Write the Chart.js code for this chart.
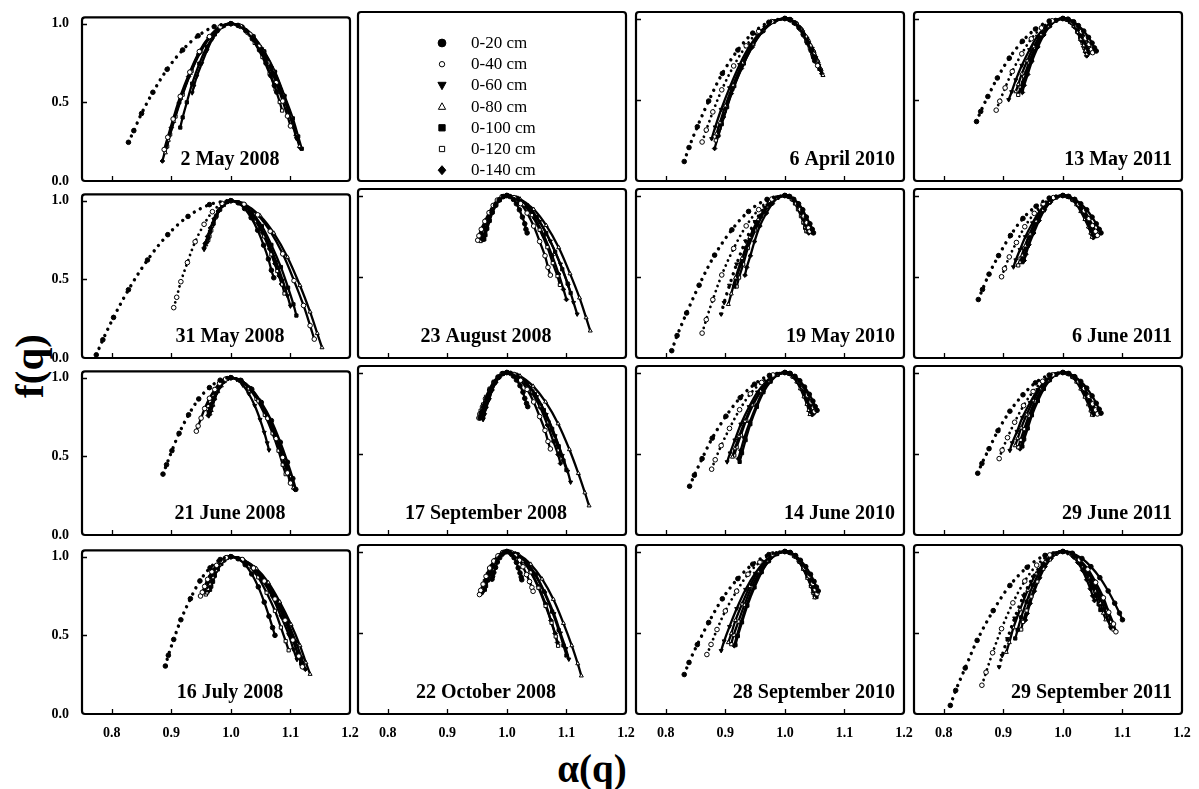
<!DOCTYPE html>
<html lang="en">
<head>
<meta charset="utf-8">
<title>Multifractal spectra f(q) vs α(q)</title>
<script src="https://cdn.jsdelivr.net/npm/chart.js@4.4.1/dist/chart.umd.min.js"></script>
<style>
html,body{margin:0;padding:0;background:#fff;}
#fig{position:relative;width:1199px;height:789px;overflow:hidden;background:#fff;}
#fig canvas{position:absolute;}
.axt{position:absolute;font-family:"Liberation Serif","Times New Roman",serif;font-weight:bold;color:#000;white-space:nowrap;line-height:1;}
</style>
</head>
<body>
<div id="fig">
<div class="axt" style="left:29px;top:366px;font-size:41px;transform:translate(-50%,-50%) rotate(-90deg);">f(q)</div>
<div class="axt" style="left:592px;top:768px;font-size:39px;transform:translate(-50%,-50%);">α(q)</div>
</div>
<script>
// ---------------- data ----------------
const depthLabels = ['0-20 cm','0-40 cm','0-60 cm','0-80 cm','0-100 cm','0-120 cm','0-140 cm'];
const panelDates = ['2 May 2008','','6 April 2010','13 May 2011','31 May 2008','23 August 2008','19 May 2010','6 June 2011','21 June 2008','17 September 2008','14 June 2010','29 June 2011','16 July 2008','22 October 2008','28 September 2010','29 September 2011'];
const xTickValues = [0.8, 0.9, 1.0, 1.1, 1.2];
const yTickValues = [0.0, 0.5, 1.0];

// each series: [alpha, f] points
const d_2May2008 = [
 [[.828,.246],[.837,.32],[.85,.429],[.869,.564],[.893,.71],[.919,.833],[.945,.923],[.972,.981],[1,1],[1.012,.989],[1.025,.955],[1.036,.904],[1.048,.833],[1.059,.749],[1.067,.671],[1.073,.607],[1.077,.565]],
 [[.888,.2],[.894,.278],[.903,.394],[.915,.538],[.931,.692],[.947,.823],[.964,.918],[.982,.98],[1,1],[1.016,.983],[1.032,.933],[1.047,.856],[1.062,.75],[1.076,.625],[1.087,.508],[1.095,.413],[1.1,.35]],
 [[.935,.56],[.938,.603],[.943,.667],[.951,.746],[.96,.831],[.969,.903],[.979,.955],[.99,.989],[1,1],[1.018,.981],[1.035,.925],[1.052,.839],[1.068,.719],[1.084,.578],[1.096,.447],[1.105,.341],[1.11,.27]],
 [[.89,.18],[.895,.26],[.904,.379],[.916,.526],[.932,.685],[.948,.819],[.965,.916],[.982,.979],[1,1],[1.018,.98],[1.037,.92],[1.054,.828],[1.071,.7],[1.087,.549],[1.1,.41],[1.109,.296],[1.115,.22]],
 [[.915,.34],[.919,.404],[.926,.5],[.935,.619],[.947,.746],[.96,.854],[.973,.932],[.986,.983],[1,1],[1.019,.98],[1.038,.919],[1.056,.824],[1.074,.694],[1.09,.541],[1.104,.398],[1.113,.283],[1.119,.205]],
 [[.893,.22],[.898,.296],[.907,.41],[.919,.549],[.934,.7],[.95,.828],[.966,.92],[.983,.98],[1,1],[1.014,.986],[1.028,.943],[1.04,.878],[1.053,.788],[1.065,.681],[1.075,.582],[1.082,.502],[1.086,.448]],
 [[.885,.127],[.891,.212],[.9,.339],[.913,.496],[.929,.664],[.946,.807],[.963,.911],[.982,.978],[1,1],[1.019,.98],[1.037,.919],[1.055,.825],[1.073,.696],[1.089,.544],[1.102,.402],[1.111,.287],[1.117,.21]]
];
const d_6Apr2010 = [
 [[.831,.12],[.839,.206],[.853,.334],[.872,.492],[.895,.662],[.921,.806],[.946,.91],[.973,.977],[1,1],[1.008,.993],[1.016,.973],[1.024,.943],[1.031,.9],[1.038,.85],[1.044,.803],[1.048,.765],[1.05,.74]],
 [[.861,.24],[.868,.314],[.879,.425],[.894,.561],[.914,.708],[.935,.832],[.956,.922],[.978,.981],[1,1],[1.009,.993],[1.018,.97],[1.026,.936],[1.034,.889],[1.042,.832],[1.048,.78],[1.052,.738],[1.055,.71]],
 [[.877,.26],[.883,.332],[.893,.44],[.907,.573],[.924,.716],[.942,.837],[.961,.924],[.98,.981],[1,1],[1.01,.992],[1.019,.967],[1.028,.929],[1.037,.877],[1.046,.815],[1.052,.758],[1.057,.711],[1.06,.68]],
 [[.885,.29],[.891,.359],[.9,.463],[.913,.59],[.929,.727],[.946,.843],[.963,.927],[.982,.982],[1,1],[1.01,.991],[1.02,.964],[1.03,.923],[1.04,.865],[1.049,.798],[1.056,.735],[1.061,.684],[1.064,.65]],
 [[.888,.28],[.894,.35],[.903,.455],[.915,.584],[.931,.723],[.947,.841],[.964,.926],[.982,.982],[1,1],[1.009,.992],[1.019,.968],[1.027,.932],[1.036,.881],[1.044,.821],[1.05,.765],[1.055,.72],[1.058,.69]],
 [[.884,.25],[.89,.323],[.899,.432],[.912,.567],[.928,.712],[.945,.834],[.963,.923],[.981,.981],[1,1],[1.008,.994],[1.015,.975],[1.023,.947],[1.03,.908],[1.036,.861],[1.042,.818],[1.046,.783],[1.048,.76]],
 [[.882,.2],[.888,.278],[.897,.394],[.91,.538],[.927,.692],[.945,.823],[.962,.918],[.981,.98],[1,1],[1.01,.991],[1.02,.965],[1.029,.925],[1.038,.869],[1.047,.804],[1.054,.743],[1.059,.693],[1.062,.66]]
];
const d_13May2011 = [
 [[.855,.366],[.862,.428],[.874,.52],[.89,.634],[.91,.756],[.932,.86],[.954,.935],[.977,.984],[1,1],[1.009,.995],[1.018,.98],[1.026,.956],[1.035,.923],[1.043,.884],[1.049,.849],[1.053,.819],[1.056,.8]],
 [[.888,.436],[.894,.491],[.903,.573],[.915,.674],[.931,.783],[.947,.875],[.964,.942],[.982,.986],[1,1],[1.008,.995],[1.016,.978],[1.024,.954],[1.031,.919],[1.038,.879],[1.044,.841],[1.048,.81],[1.05,.79]],
 [[.909,.5],[.914,.549],[.921,.622],[.931,.711],[.944,.808],[.957,.89],[.971,.949],[.985,.987],[1,1],[1.007,.995],[1.014,.978],[1.021,.954],[1.028,.919],[1.034,.879],[1.039,.841],[1.043,.81],[1.045,.79]],
 [[.921,.55],[.925,.594],[.931,.659],[.94,.74],[.951,.827],[.963,.901],[.975,.954],[.987,.988],[1,1],[1.006,.994],[1.013,.977],[1.019,.951],[1.025,.915],[1.03,.873],[1.035,.833],[1.038,.801],[1.04,.78]],
 [[.93,.56],[.933,.603],[.939,.667],[.947,.746],[.957,.831],[.967,.903],[.978,.955],[.989,.989],[1,1],[1.007,.994],[1.013,.978],[1.02,.953],[1.026,.917],[1.032,.876],[1.037,.837],[1.04,.806],[1.042,.785]],
 [[.925,.53],[.929,.576],[.935,.644],[.943,.729],[.953,.819],[.965,.896],[.976,.952],[.988,.988],[1,1],[1.006,.995],[1.012,.98],[1.018,.956],[1.024,.923],[1.029,.884],[1.033,.849],[1.036,.819],[1.038,.8]],
 [[.932,.545],[.935,.589],[.941,.656],[.948,.737],[.958,.825],[.968,.899],[.978,.953],[.989,.988],[1,1],[1.006,.994],[1.013,.976],[1.019,.949],[1.025,.912],[1.03,.867],[1.035,.826],[1.038,.792],[1.04,.77]]
];
const d_31May2008 = [
 [[.774,.02],[.785,.116],[.803,.258],[.828,.434],[.86,.623],[.894,.784],[.928,.9],[.964,.975],[1,1],[1.012,.987],[1.023,.95],[1.034,.892],[1.045,.812],[1.055,.717],[1.063,.629],[1.068,.558],[1.072,.51]],
 [[.904,.32],[.909,.386],[.916,.485],[.927,.607],[.94,.739],[.955,.85],[.969,.93],[.985,.983],[1,1],[1.022,.977],[1.045,.91],[1.066,.806],[1.087,.662],[1.106,.492],[1.122,.334],[1.133,.206],[1.14,.12]],
 [[.955,.69],[.957,.72],[.961,.765],[.966,.821],[.972,.881],[.979,.932],[.986,.968],[.993,.992],[1,1],[1.016,.983],[1.032,.931],[1.047,.852],[1.062,.742],[1.076,.613],[1.087,.493],[1.095,.395],[1.1,.33]],
 [[.958,.72],[.96,.747],[.963,.788],[.968,.838],[.974,.892],[.98,.938],[.987,.971],[.993,.993],[1,1],[1.024,.976],[1.049,.904],[1.072,.794],[1.095,.641],[1.116,.461],[1.133,.293],[1.145,.157],[1.153,.066]],
 [[.96,.74],[.962,.765],[.965,.803],[.97,.85],[.975,.9],[.981,.943],[.987,.973],[.994,.993],[1,1],[1.018,.981],[1.035,.925],[1.052,.839],[1.068,.719],[1.084,.578],[1.096,.447],[1.105,.341],[1.11,.27]],
 [[.962,.75],[.964,.774],[.967,.811],[.971,.856],[.976,.904],[.982,.945],[.988,.974],[.994,.994],[1,1],[1.014,.985],[1.029,.94],[1.042,.87],[1.056,.773],[1.068,.659],[1.078,.553],[1.086,.468],[1.09,.41]],
 [[.955,.7],[.957,.729],[.961,.773],[.966,.827],[.972,.885],[.979,.934],[.986,.969],[.993,.992],[1,1],[1.014,.986],[1.027,.946],[1.04,.883],[1.053,.796],[1.065,.694],[1.074,.599],[1.081,.522],[1.085,.47]]
];
const d_23Aug2008 = [
 [[.96,.73],[.962,.756],[.965,.796],[.97,.844],[.975,.896],[.981,.94],[.987,.972],[.994,.993],[1,1],[1.005,.994],[1.011,.976],[1.016,.949],[1.021,.912],[1.026,.867],[1.03,.826],[1.032,.792],[1.034,.77]],
 [[.951,.725],[.953,.752],[.957,.792],[.963,.841],[.97,.894],[.977,.939],[.984,.972],[.992,.993],[1,1],[1.012,.987],[1.023,.95],[1.034,.892],[1.045,.812],[1.055,.717],[1.064,.629],[1.069,.558],[1.073,.51]],
 [[.955,.74],[.957,.765],[.961,.803],[.966,.85],[.972,.9],[.979,.943],[.986,.973],[.993,.993],[1,1],[1.019,.981],[1.038,.925],[1.055,.839],[1.073,.719],[1.09,.578],[1.103,.447],[1.112,.341],[1.118,.27]],
 [[.958,.75],[.96,.774],[.963,.811],[.968,.856],[.974,.904],[.98,.945],[.987,.974],[.993,.994],[1,1],[1.022,.979],[1.045,.915],[1.066,.816],[1.087,.68],[1.106,.519],[1.122,.37],[1.133,.248],[1.14,.167]],
 [[.962,.73],[.964,.756],[.967,.796],[.971,.844],[.976,.896],[.982,.94],[.988,.972],[.994,.993],[1,1],[1.017,.985],[1.034,.939],[1.05,.867],[1.066,.769],[1.081,.653],[1.093,.546],[1.102,.458],[1.107,.4]],
 [[.956,.72],[.958,.747],[.962,.788],[.967,.838],[.973,.892],[.979,.938],[.986,.971],[.993,.993],[1,1],[1.014,.986],[1.028,.944],[1.042,.879],[1.055,.789],[1.068,.682],[1.077,.584],[1.085,.504],[1.089,.45]],
 [[.96,.74],[.962,.765],[.965,.803],[.97,.85],[.975,.9],[.981,.943],[.987,.973],[.994,.993],[1,1],[1.016,.984],[1.032,.934],[1.047,.859],[1.062,.754],[1.076,.63],[1.087,.516],[1.095,.422],[1.1,.36]]
];
const d_19May2010 = [
 [[.81,.045],[.819,.138],[.835,.277],[.856,.448],[.882,.633],[.911,.789],[.939,.902],[.97,.976],[1,1],[1.008,.994],[1.015,.976],[1.023,.949],[1.03,.912],[1.036,.867],[1.042,.826],[1.046,.792],[1.048,.77]],
 [[.861,.153],[.868,.236],[.879,.359],[.894,.511],[.914,.674],[.935,.813],[.956,.913],[.978,.978],[1,1],[1.007,.994],[1.013,.977],[1.02,.951],[1.026,.915],[1.032,.873],[1.037,.833],[1.04,.801],[1.042,.78]],
 [[.893,.27],[.898,.341],[.907,.447],[.919,.578],[.934,.719],[.95,.839],[.966,.925],[.983,.981],[1,1],[1.006,.994],[1.013,.976],[1.019,.949],[1.025,.912],[1.03,.867],[1.035,.826],[1.038,.792],[1.04,.77]],
 [[.905,.33],[.91,.395],[.917,.493],[.928,.613],[.941,.742],[.955,.852],[.97,.931],[.985,.983],[1,1],[1.006,.994],[1.012,.977],[1.018,.951],[1.024,.915],[1.029,.873],[1.033,.833],[1.036,.801],[1.038,.78]],
 [[.915,.44],[.919,.495],[.926,.576],[.935,.677],[.947,.785],[.96,.876],[.973,.943],[.986,.986],[1,1],[1.007,.994],[1.014,.977],[1.021,.95],[1.028,.914],[1.034,.87],[1.039,.83],[1.043,.797],[1.045,.775]],
 [[.919,.44],[.923,.495],[.93,.576],[.938,.677],[.95,.785],[.962,.876],[.974,.943],[.987,.986],[1,1],[1.006,.994],[1.012,.977],[1.017,.951],[1.022,.915],[1.027,.873],[1.031,.833],[1.034,.801],[1.036,.78]],
 [[.933,.51],[.936,.558],[.942,.629],[.949,.717],[.958,.812],[.969,.892],[.979,.95],[.989,.987],[1,1],[1.006,.994],[1.013,.976],[1.019,.949],[1.025,.912],[1.03,.867],[1.035,.826],[1.038,.792],[1.04,.77]]
];
const d_6Jun2011 = [
 [[.858,.36],[.865,.422],[.876,.516],[.892,.63],[.912,.754],[.933,.859],[.955,.934],[.977,.984],[1,1],[1.01,.994],[1.02,.976],[1.03,.949],[1.04,.912],[1.049,.867],[1.056,.826],[1.061,.792],[1.064,.77]],
 [[.897,.5],[.902,.549],[.91,.622],[.922,.711],[.936,.808],[.952,.89],[.967,.949],[.984,.987],[1,1],[1.009,.994],[1.019,.975],[1.027,.946],[1.036,.906],[1.044,.858],[1.05,.815],[1.055,.779],[1.058,.755]],
 [[.917,.56],[.921,.603],[.928,.667],[.937,.746],[.949,.831],[.961,.903],[.973,.955],[.987,.989],[1,1],[1.008,.993],[1.017,.974],[1.024,.944],[1.032,.902],[1.04,.853],[1.045,.807],[1.049,.77],[1.052,.745]],
 [[.928,.59],[.932,.63],[.937,.69],[.945,.763],[.955,.842],[.966,.909],[.977,.958],[.988,.99],[1,1],[1.008,.993],[1.016,.974],[1.023,.944],[1.03,.902],[1.037,.853],[1.043,.807],[1.047,.769],[1.049,.744]],
 [[.932,.59],[.935,.63],[.941,.69],[.948,.763],[.958,.842],[.968,.909],[.978,.958],[.989,.99],[1,1],[1.009,.994],[1.018,.974],[1.026,.945],[1.034,.904],[1.042,.856],[1.048,.811],[1.052,.774],[1.055,.75]],
 [[.925,.57],[.929,.612],[.935,.675],[.943,.752],[.953,.835],[.965,.905],[.976,.956],[.988,.989],[1,1],[1.008,.994],[1.016,.975],[1.024,.947],[1.031,.908],[1.038,.861],[1.044,.818],[1.048,.783],[1.05,.76]],
 [[.935,.6],[.938,.639],[.943,.697],[.951,.769],[.96,.846],[.969,.912],[.979,.959],[.99,.99],[1,1],[1.008,.993],[1.016,.973],[1.024,.943],[1.032,.9],[1.039,.85],[1.044,.803],[1.048,.765],[1.051,.74]]
];
const d_21Jun2008 = [
 [[.886,.387],[.892,.447],[.901,.536],[.913,.646],[.929,.764],[.946,.865],[.964,.937],[.982,.984],[1,1],[1.017,.982],[1.035,.927],[1.051,.843],[1.068,.727],[1.083,.59],[1.095,.463],[1.104,.359],[1.109,.29]],
 [[.942,.66],[.945,.693],[.95,.743],[.956,.804],[.964,.869],[.973,.925],[.981,.965],[.991,.991],[1,1],[1.016,.983],[1.032,.931],[1.047,.852],[1.062,.742],[1.076,.613],[1.087,.493],[1.095,.395],[1.1,.33]],
 [[.963,.757],[.965,.781],[.968,.816],[.972,.86],[.977,.907],[.983,.946],[.988,.975],[.994,.994],[1,1],[1.01,.988],[1.02,.953],[1.03,.898],[1.04,.823],[1.049,.734],[1.056,.652],[1.061,.585],[1.064,.54]],
 [[.965,.77],[.967,.792],[.97,.826],[.973,.867],[.978,.912],[.984,.949],[.989,.976],[.994,.994],[1,1],[1.017,.982],[1.034,.928],[1.049,.845],[1.065,.731],[1.08,.596],[1.091,.47],[1.1,.368],[1.105,.3]],
 [[.963,.78],[.965,.801],[.968,.833],[.972,.873],[.977,.915],[.983,.951],[.988,.977],[.994,.994],[1,1],[1.016,.983],[1.032,.932],[1.047,.854],[1.062,.746],[1.076,.619],[1.087,.5],[1.095,.404],[1.1,.34]],
 [[.96,.8],[.962,.819],[.965,.849],[.97,.884],[.975,.923],[.981,.956],[.987,.98],[.994,.995],[1,1],[1.015,.984],[1.029,.937],[1.043,.865],[1.057,.764],[1.07,.646],[1.08,.536],[1.087,.447],[1.092,.387]],
 [[.962,.76],[.964,.783],[.967,.818],[.971,.861],[.976,.908],[.982,.947],[.988,.975],[.994,.994],[1,1],[1.017,.982],[1.034,.927],[1.05,.843],[1.066,.727],[1.081,.59],[1.093,.463],[1.102,.359],[1.107,.29]]
];
const d_17Sep2008 = [
 [[.955,.72],[.957,.747],[.961,.788],[.966,.838],[.972,.892],[.979,.938],[.986,.971],[.993,.993],[1,1],[1.006,.995],[1.011,.978],[1.016,.954],[1.022,.919],[1.027,.879],[1.03,.841],[1.033,.81],[1.035,.79]],
 [[.953,.72],[.955,.747],[.959,.788],[.964,.838],[.971,.892],[.978,.938],[.985,.971],[.992,.993],[1,1],[1.012,.988],[1.023,.952],[1.034,.896],[1.045,.819],[1.055,.729],[1.064,.644],[1.069,.576],[1.073,.53]],
 [[.96,.71],[.962,.738],[.965,.78],[.97,.832],[.975,.889],[.981,.936],[.987,.97],[.994,.993],[1,1],[1.017,.983],[1.034,.931],[1.05,.851],[1.066,.741],[1.081,.61],[1.093,.489],[1.102,.391],[1.107,.325]],
 [[.955,.73],[.957,.756],[.961,.796],[.966,.844],[.972,.896],[.979,.94],[.986,.972],[.993,.993],[1,1],[1.022,.979],[1.044,.916],[1.065,.819],[1.086,.685],[1.105,.526],[1.12,.379],[1.131,.26],[1.138,.18]],
 [[.958,.73],[.96,.756],[.963,.796],[.968,.844],[.974,.896],[.98,.94],[.987,.972],[.993,.993],[1,1],[1.016,.985],[1.032,.939],[1.047,.867],[1.062,.769],[1.076,.653],[1.087,.546],[1.095,.458],[1.1,.4]],
 [[.954,.74],[.956,.765],[.96,.803],[.965,.85],[.971,.9],[.978,.943],[.985,.973],[.993,.993],[1,1],[1.015,.986],[1.029,.946],[1.043,.883],[1.057,.796],[1.07,.694],[1.08,.599],[1.087,.522],[1.092,.47]],
 [[.96,.72],[.962,.747],[.965,.788],[.97,.838],[.975,.892],[.981,.938],[.987,.971],[.994,.993],[1,1],[1.014,.986],[1.029,.943],[1.042,.876],[1.056,.785],[1.068,.677],[1.078,.576],[1.086,.495],[1.09,.44]]
];
const d_14Jun2010 = [
 [[.84,.3],[.848,.368],[.861,.47],[.878,.596],[.901,.731],[.925,.845],[.949,.928],[.974,.982],[1,1],[1.009,.994],[1.017,.976],[1.025,.949],[1.033,.911],[1.041,.866],[1.047,.824],[1.051,.79],[1.054,.767]],
 [[.877,.405],[.883,.463],[.893,.55],[.907,.656],[.924,.771],[.942,.869],[.961,.939],[.98,.985],[1,1],[1.008,.994],[1.016,.975],[1.024,.947],[1.031,.908],[1.038,.861],[1.044,.818],[1.048,.783],[1.05,.76]],
 [[.903,.45],[.908,.504],[.916,.584],[.926,.682],[.94,.789],[.954,.879],[.969,.944],[.984,.986],[1,1],[1.007,.994],[1.014,.974],[1.021,.945],[1.028,.904],[1.034,.856],[1.039,.811],[1.043,.774],[1.045,.75]],
 [[.912,.48],[.916,.531],[.923,.606],[.933,.7],[.945,.8],[.959,.885],[.972,.947],[.986,.987],[1,1],[1.007,.993],[1.013,.974],[1.02,.943],[1.026,.901],[1.032,.851],[1.037,.805],[1.04,.767],[1.042,.742]],
 [[.924,.45],[.928,.504],[.934,.584],[.942,.682],[.953,.789],[.964,.879],[.976,.944],[.988,.986],[1,1],[1.008,.994],[1.015,.974],[1.023,.945],[1.03,.904],[1.036,.856],[1.042,.811],[1.046,.774],[1.048,.75]],
 [[.915,.49],[.919,.54],[.926,.614],[.935,.705],[.947,.804],[.96,.887],[.973,.948],[.986,.987],[1,1],[1.007,.993],[1.014,.974],[1.021,.944],[1.027,.902],[1.033,.853],[1.038,.807],[1.042,.77],[1.044,.745]],
 [[.922,.47],[.926,.522],[.932,.599],[.941,.694],[.952,.796],[.963,.883],[.975,.946],[.988,.986],[1,1],[1.007,.993],[1.015,.973],[1.022,.943],[1.029,.9],[1.035,.85],[1.04,.803],[1.044,.765],[1.046,.74]]
];
const d_29Jun2011 = [
 [[.857,.38],[.864,.44],[.876,.531],[.891,.642],[.911,.762],[.933,.863],[.954,.937],[.977,.984],[1,1],[1.01,.994],[1.02,.974],[1.03,.945],[1.04,.904],[1.049,.856],[1.056,.811],[1.061,.774],[1.064,.75]],
 [[.893,.47],[.898,.522],[.907,.599],[.919,.694],[.934,.796],[.95,.883],[.966,.946],[.983,.986],[1,1],[1.009,.993],[1.019,.974],[1.027,.944],[1.036,.902],[1.044,.853],[1.05,.807],[1.055,.77],[1.058,.745]],
 [[.911,.52],[.915,.567],[.923,.637],[.932,.723],[.945,.815],[.958,.894],[.972,.951],[.986,.988],[1,1],[1.008,.993],[1.017,.973],[1.024,.943],[1.032,.9],[1.04,.85],[1.045,.803],[1.049,.765],[1.052,.74]],
 [[.92,.55],[.924,.594],[.93,.659],[.939,.74],[.95,.827],[.962,.901],[.974,.954],[.987,.988],[1,1],[1.008,.993],[1.016,.973],[1.023,.942],[1.03,.899],[1.037,.849],[1.043,.802],[1.047,.764],[1.049,.738]],
 [[.932,.545],[.935,.589],[.941,.656],[.948,.737],[.958,.825],[.968,.899],[.978,.953],[.989,.988],[1,1],[1.009,.993],[1.018,.974],[1.026,.944],[1.034,.902],[1.042,.853],[1.048,.807],[1.052,.77],[1.055,.745]],
 [[.925,.54],[.929,.585],[.935,.652],[.943,.734],[.953,.823],[.965,.898],[.976,.953],[.988,.988],[1,1],[1.008,.994],[1.016,.974],[1.024,.945],[1.031,.904],[1.038,.856],[1.044,.811],[1.048,.774],[1.05,.75]],
 [[.928,.53],[.932,.576],[.937,.644],[.945,.729],[.955,.819],[.966,.896],[.977,.952],[.988,.988],[1,1],[1.008,.993],[1.016,.973],[1.024,.943],[1.032,.9],[1.039,.85],[1.044,.803],[1.048,.765],[1.051,.74]]
];
const d_16Jul2008 = [
 [[.89,.305],[.895,.373],[.904,.474],[.916,.599],[.932,.733],[.948,.846],[.965,.929],[.982,.982],[1,1],[1.012,.987],[1.024,.949],[1.035,.89],[1.046,.808],[1.056,.711],[1.064,.622],[1.07,.549],[1.074,.5]],
 [[.949,.75],[.952,.774],[.956,.811],[.961,.856],[.968,.904],[.976,.945],[.984,.974],[.992,.994],[1,1],[1.019,.982],[1.038,.928],[1.056,.845],[1.074,.731],[1.091,.596],[1.104,.47],[1.114,.368],[1.12,.3]],
 [[.955,.78],[.957,.801],[.961,.833],[.966,.873],[.972,.915],[.979,.951],[.986,.977],[.993,.994],[1,1],[1.018,.983],[1.036,.933],[1.052,.856],[1.069,.749],[1.084,.622],[1.097,.505],[1.105,.41],[1.111,.346]],
 [[.96,.77],[.962,.792],[.965,.826],[.97,.867],[.975,.912],[.981,.949],[.987,.976],[.994,.994],[1,1],[1.021,.981],[1.043,.924],[1.063,.835],[1.082,.713],[1.101,.569],[1.116,.435],[1.126,.326],[1.133,.253]],
 [[.965,.79],[.967,.81],[.97,.841],[.973,.879],[.978,.919],[.984,.954],[.989,.978],[.994,.995],[1,1],[1.019,.983],[1.038,.93],[1.055,.85],[1.073,.739],[1.09,.607],[1.103,.485],[1.112,.386],[1.118,.32]],
 [[.958,.76],[.96,.783],[.963,.818],[.968,.861],[.974,.908],[.98,.947],[.987,.975],[.993,.994],[1,1],[1.016,.985],[1.031,.939],[1.046,.869],[1.06,.771],[1.074,.656],[1.084,.55],[1.092,.463],[1.097,.405]],
 [[.962,.78],[.964,.801],[.967,.833],[.971,.873],[.976,.915],[.982,.951],[.988,.977],[.994,.994],[1,1],[1.02,.982],[1.04,.927],[1.059,.842],[1.078,.725],[1.095,.586],[1.109,.458],[1.119,.354],[1.125,.284]]
];
const d_22Oct2008 = [
 [[.975,.83],[.976,.847],[.978,.871],[.981,.902],[.984,.935],[.988,.962],[.992,.983],[.996,.996],[1,1],[1.004,.996],[1.008,.982],[1.012,.962],[1.016,.933],[1.019,.899],[1.022,.868],[1.024,.843],[1.025,.826]],
 [[.954,.735],[.956,.761],[.96,.799],[.965,.847],[.971,.898],[.978,.941],[.985,.973],[.993,.993],[1,1],[1.007,.994],[1.014,.975],[1.021,.946],[1.027,.906],[1.033,.858],[1.038,.815],[1.042,.779],[1.044,.755]],
 [[.96,.75],[.962,.774],[.965,.811],[.97,.856],[.975,.904],[.981,.945],[.987,.974],[.994,.994],[1,1],[1.017,.983],[1.033,.932],[1.049,.854],[1.064,.745],[1.079,.617],[1.09,.498],[1.099,.402],[1.104,.337]],
 [[.956,.74],[.958,.765],[.962,.803],[.967,.85],[.973,.9],[.979,.943],[.986,.973],[.993,.993],[1,1],[1.02,.98],[1.04,.922],[1.059,.831],[1.078,.706],[1.095,.558],[1.109,.421],[1.119,.31],[1.125,.235]],
 [[.963,.765],[.965,.788],[.968,.822],[.972,.864],[.977,.91],[.983,.948],[.988,.976],[.994,.994],[1,1],[1.016,.984],[1.032,.934],[1.047,.859],[1.062,.754],[1.076,.63],[1.087,.516],[1.095,.422],[1.1,.36]],
 [[.958,.76],[.96,.783],[.963,.818],[.968,.861],[.974,.908],[.98,.947],[.987,.975],[.993,.994],[1,1],[1.014,.985],[1.028,.941],[1.04,.872],[1.053,.777],[1.065,.665],[1.075,.561],[1.082,.477],[1.086,.42]],
 [[.96,.76],[.962,.783],[.965,.818],[.97,.861],[.975,.908],[.981,.947],[.987,.975],[.994,.994],[1,1],[1.014,.986],[1.027,.943],[1.04,.876],[1.053,.785],[1.065,.677],[1.074,.576],[1.081,.495],[1.085,.44]]
];
const d_28Sep2010 = [
 [[.831,.243],[.839,.317],[.853,.427],[.872,.563],[.895,.709],[.921,.833],[.946,.922],[.973,.981],[1,1],[1.009,.994],[1.018,.975],[1.026,.946],[1.035,.907],[1.043,.86],[1.049,.816],[1.053,.781],[1.056,.757]],
 [[.869,.366],[.876,.428],[.886,.52],[.9,.634],[.919,.756],[.938,.86],[.958,.935],[.979,.984],[1,1],[1.009,.993],[1.017,.973],[1.025,.943],[1.033,.9],[1.041,.85],[1.047,.803],[1.051,.765],[1.054,.74]],
 [[.893,.39],[.898,.449],[.907,.538],[.919,.648],[.934,.766],[.95,.865],[.966,.938],[.983,.984],[1,1],[1.008,.993],[1.017,.972],[1.024,.94],[1.032,.896],[1.04,.844],[1.045,.796],[1.049,.756],[1.052,.73]],
 [[.905,.44],[.91,.495],[.917,.576],[.928,.677],[.941,.785],[.955,.876],[.97,.943],[.985,.986],[1,1],[1.008,.993],[1.016,.971],[1.024,.937],[1.031,.891],[1.038,.836],[1.044,.785],[1.048,.744],[1.05,.716]],
 [[.917,.424],[.921,.48],[.928,.564],[.937,.667],[.949,.779],[.961,.873],[.973,.941],[.987,.985],[1,1],[1.008,.993],[1.017,.971],[1.025,.938],[1.033,.892],[1.04,.838],[1.046,.788],[1.05,.747],[1.053,.72]],
 [[.91,.43],[.914,.486],[.922,.569],[.932,.671],[.944,.781],[.958,.874],[.971,.942],[.986,.985],[1,1],[1.008,.993],[1.016,.972],[1.024,.94],[1.031,.896],[1.038,.844],[1.044,.796],[1.048,.756],[1.05,.73]],
 [[.915,.42],[.919,.477],[.926,.561],[.935,.665],[.947,.777],[.96,.872],[.973,.941],[.986,.985],[1,1],[1.008,.993],[1.016,.971],[1.024,.938],[1.032,.892],[1.039,.838],[1.044,.788],[1.048,.747],[1.051,.72]]
];
const d_29Sep2011 = [
 [[.811,.053],[.82,.145],[.836,.283],[.856,.453],[.883,.636],[.911,.791],[.94,.903],[.97,.976],[1,1],[1.016,.989],[1.032,.957],[1.047,.907],[1.062,.839],[1.076,.757],[1.087,.682],[1.095,.621],[1.1,.58]],
 [[.864,.177],[.871,.257],[.882,.377],[.897,.525],[.916,.684],[.936,.818],[.956,.916],[.978,.979],[1,1],[1.014,.987],[1.028,.949],[1.042,.891],[1.055,.81],[1.068,.715],[1.077,.626],[1.085,.554],[1.089,.506]],
 [[.893,.29],[.898,.359],[.907,.463],[.919,.59],[.934,.727],[.95,.843],[.966,.927],[.983,.982],[1,1],[1.013,.988],[1.026,.952],[1.038,.896],[1.05,.819],[1.061,.729],[1.07,.644],[1.076,.576],[1.08,.53]],
 [[.905,.38],[.91,.44],[.917,.531],[.928,.642],[.941,.762],[.955,.863],[.97,.937],[.985,.984],[1,1],[1.012,.989],[1.023,.957],[1.034,.907],[1.045,.839],[1.055,.757],[1.063,.682],[1.068,.621],[1.072,.58]],
 [[.92,.465],[.924,.517],[.93,.595],[.939,.691],[.95,.794],[.962,.882],[.974,.945],[.987,.986],[1,1],[1.01,.991],[1.02,.963],[1.03,.92],[1.039,.862],[1.048,.792],[1.055,.728],[1.06,.675],[1.063,.64]],
 [[.93,.52],[.933,.567],[.939,.637],[.947,.723],[.957,.815],[.967,.894],[.978,.951],[.989,.988],[1,1],[1.014,.988],[1.027,.951],[1.04,.894],[1.053,.815],[1.065,.723],[1.074,.637],[1.081,.567],[1.085,.52]],
 [[.937,.578],[.94,.619],[.945,.681],[.952,.756],[.961,.838],[.97,.907],[.98,.957],[.99,.989],[1,1],[1.008,.992],[1.017,.969],[1.025,.933],[1.033,.884],[1.04,.826],[1.046,.771],[1.05,.727],[1.053,.698]]
];

// panel order (row-major, 4x4); index 1 is the legend panel
const panelData = [d_2May2008, null, d_6Apr2010, d_13May2011,
                   d_31May2008, d_23Aug2008, d_19May2010, d_6Jun2011,
                   d_21Jun2008, d_17Sep2008, d_14Jun2010, d_29Jun2011,
                   d_16Jul2008, d_22Oct2008, d_28Sep2010, d_29Sep2011];

// ---------------- style / layout ----------------
const sparseLeft = [[0],[],[0,1],[0,1],[0,1],[],[0,1,2],[0,1],[0],[],[0,1],[0,1],[0],[],[0,1],[0,1,2]];
const FONT = '"Liberation Serif", "Times New Roman", serif';
const COL_LEFT = [82, 358, 636, 914];
const ROW_TOP = [12, 189, 366, 545];
const PW = 268, PH = 169;
const PAD = {l: 46, r: 18, t: 8, b: 34};
const X_MIN = 0.75, X_MAX = 1.2, Y_MIN = 0, Y_MAX = 1.04;
const MARKERS = [
  {style:'circle',   rot:0,   fill:true,  leg:3.9},
  {style:'circle',   rot:0,   fill:false, leg:2.7},
  {style:'triangle', rot:180, fill:true,  leg:4.3},
  {style:'triangle', rot:0,   fill:false, leg:3.8},
  {style:'rect',     rot:0,   fill:true,  leg:4.2},
  {style:'rect',     rot:0,   fill:false, leg:3.5},
  {style:'rectRot',  rot:0,   fill:true,  leg:4.5}
];
const LABEL_POS = [{align:'center', dx:148}, {align:'center', dx:128}, {align:'right', dx:PW-9}, {align:'right', dx:PW-10}];
const LEG = {mx:84, tx:113, y0:31, dy:21.2};

const fig = document.getElementById('fig');

function drawFrame(ctx, a) {
  ctx.save();
  ctx.strokeStyle = '#000';
  ctx.lineWidth = 2.2;
  ctx.beginPath();
  if (ctx.roundRect) ctx.roundRect(a.left, a.top, a.right - a.left, a.bottom - a.top, 3);
  else ctx.rect(a.left, a.top, a.right - a.left, a.bottom - a.top);
  ctx.stroke();
  ctx.restore();
}

function drawMarker(ctx, m, x, y, r) {
  ctx.beginPath();
  if (m.style === 'circle') {
    ctx.arc(x, y, r, 0, Math.PI * 2);
  } else if (m.style === 'triangle') {
    const s = m.rot === 180 ? -1 : 1;
    ctx.moveTo(x, y - s * r);
    ctx.lineTo(x + r * 0.95, y + s * r * 0.72);
    ctx.lineTo(x - r * 0.95, y + s * r * 0.72);
    ctx.closePath();
  } else if (m.style === 'rect') {
    ctx.rect(x - r * 0.75, y - r * 0.75, r * 1.5, r * 1.5);
  } else {
    ctx.moveTo(x, y - r); ctx.lineTo(x + r * 0.85, y); ctx.lineTo(x, y + r); ctx.lineTo(x - r * 0.85, y);
    ctx.closePath();
  }
  ctx.fillStyle = m.fill ? '#000' : '#fff';
  ctx.fill();
  ctx.lineWidth = 1;
  ctx.strokeStyle = '#000';
  ctx.stroke();
}

const panelDecor = {
  id: 'panelDecor',
  afterDraw(chart, args, opts) {
    const {ctx, chartArea: a} = chart;
    const xs = chart.scales.x, ys = chart.scales.y;
    ctx.save();
    ctx.strokeStyle = '#000';
    ctx.lineWidth = 1.3;
    ctx.beginPath();
    xTickValues.filter(v => v < X_MAX - 1e-9).forEach(v => {
      const px = Math.round(xs.getPixelForValue(v)) + 0.5;
      ctx.moveTo(px, a.bottom); ctx.lineTo(px, a.bottom - 5);
    });
    yTickValues.filter(v => v > Y_MIN + 1e-9).forEach(v => {
      const py = Math.round(ys.getPixelForValue(v)) + 0.5;
      ctx.moveTo(a.left, py); ctx.lineTo(a.left + 5, py);
    });
    ctx.stroke();
    ctx.restore();
    drawFrame(ctx, a);
    if (opts && opts.text) {
      ctx.save();
      ctx.font = 'bold 20px ' + FONT;
      ctx.fillStyle = '#000';
      ctx.textAlign = opts.align;
      ctx.textBaseline = 'middle';
      ctx.fillText(opts.text, a.left + opts.dx, a.bottom - 21);
      ctx.restore();
    }
  }
};

const legendDecor = {
  id: 'legendDecor',
  afterDraw(chart) {
    const {ctx, chartArea: a} = chart;
    drawFrame(ctx, a);
    ctx.save();
    chart.data.datasets.forEach((ds, k) => {
      const y = a.top + LEG.y0 + k * LEG.dy;
      drawMarker(ctx, MARKERS[k], a.left + LEG.mx, y, MARKERS[k].leg);
      ctx.fillStyle = '#000';
      ctx.font = '17px ' + FONT;
      ctx.textAlign = 'left';
      ctx.textBaseline = 'middle';
      ctx.fillText(ds.label, a.left + LEG.tx, y + 0.5);
    });
    ctx.restore();
  }
};

function makeCanvas(r, c) {
  const cv = document.createElement('canvas');
  const w = PAD.l + PW + PAD.r, h = PAD.t + PH + PAD.b;
  cv.width = w; cv.height = h;
  cv.style.width = w + 'px'; cv.style.height = h + 'px';
  cv.style.left = (COL_LEFT[c] - PAD.l) + 'px';
  cv.style.top = (ROW_TOP[r] - PAD.t) + 'px';
  fig.appendChild(cv);
  return cv;
}

function buildDatasets(series, sparse) {
  return series.map((pts, k) => {
    const m = MARKERS[k];
    let peak = 0;
    pts.forEach((p, i) => { if (p[1] > pts[peak][1]) peak = i; });
    const isSparse = sparse.includes(k);
    const inSparse = ctx => isSparse && ctx.p0DataIndex < peak;
    return {
      label: depthLabels[k],
      data: pts.map(p => ({x: p[0], y: p[1]})),
      showLine: true,
      tension: 0.35,
      borderColor: '#000',
      borderWidth: 2.3,
      borderCapStyle: 'round',
      borderJoinStyle: 'round',
      pointStyle: m.style,
      pointRotation: m.rot,
      pointRadius: 2.3,
      pointBorderWidth: 1,
      pointBackgroundColor: m.fill ? '#000' : '#fff',
      pointBorderColor: '#000',
      segment: {
        borderDash: ctx => inSparse(ctx) ? [0.01, m.fill ? 7 : 5.5] : undefined,
        borderWidth: ctx => inSparse(ctx) ? (m.fill ? 3.4 : 2.8) : undefined
      }
    };
  });
}

function makePanel(idx) {
  const r = Math.floor(idx / 4), c = idx % 4;
  const cv = makeCanvas(r, c);
  const lp = LABEL_POS[c];
  new Chart(cv, {
    type: 'scatter',
    data: {datasets: buildDatasets(panelData[idx], sparseLeft[idx])},
    options: {
      responsive: false, animation: false, devicePixelRatio: 1, events: [],
      layout: {padding: {left: 0, right: PAD.r, top: PAD.t, bottom: 0}},
      plugins: {
        legend: {display: false}, tooltip: {enabled: false},
        panelDecor: {text: panelDates[idx], align: lp.align, dx: lp.dx}
      },
      scales: {
        x: {
          type: 'linear', min: X_MIN, max: X_MAX,
          grid: {display: false}, border: {display: false},
          afterBuildTicks: s => { s.ticks = xTickValues.map(v => ({value: v})); },
          afterFit: s => { s.height = PAD.b; },
          ticks: {display: r === 3, padding: 3, color: '#000', autoSkip: false, maxRotation: 0,
                  font: {family: FONT, size: 14, weight: 'bold'},
                  callback: v => Number(v).toFixed(1)}
        },
        y: {
          type: 'linear', min: Y_MIN, max: Y_MAX,
          grid: {display: false}, border: {display: false},
          afterBuildTicks: s => { s.ticks = yTickValues.map(v => ({value: v})); },
          afterFit: s => { s.width = PAD.l; },
          ticks: {display: c === 0, padding: 5, color: '#000',
                  font: {family: FONT, size: 14, weight: 'bold'},
                  callback: v => Number(v).toFixed(1)}
        }
      }
    },
    plugins: [panelDecor]
  });
}

function makeLegendPanel(idx) {
  const r = Math.floor(idx / 4), c = idx % 4;
  const cv = makeCanvas(r, c);
  new Chart(cv, {
    type: 'scatter',
    data: {datasets: depthLabels.map((lab, k) => ({
      label: lab, data: [],
      pointStyle: MARKERS[k].style, pointRotation: MARKERS[k].rot,
      pointBackgroundColor: MARKERS[k].fill ? '#000' : '#fff', pointBorderColor: '#000'
    }))},
    options: {
      responsive: false, animation: false, devicePixelRatio: 1, events: [],
      layout: {padding: {left: PAD.l, right: PAD.r, top: PAD.t, bottom: PAD.b}},
      plugins: {legend: {display: false}, tooltip: {enabled: false}},
      scales: {x: {display: false, min: X_MIN, max: X_MAX}, y: {display: false, min: Y_MIN, max: Y_MAX}}
    },
    plugins: [legendDecor]
  });
}

panelData.forEach((d, idx) => { if (d) makePanel(idx); else makeLegendPanel(idx); });
</script>
</body>
</html>
